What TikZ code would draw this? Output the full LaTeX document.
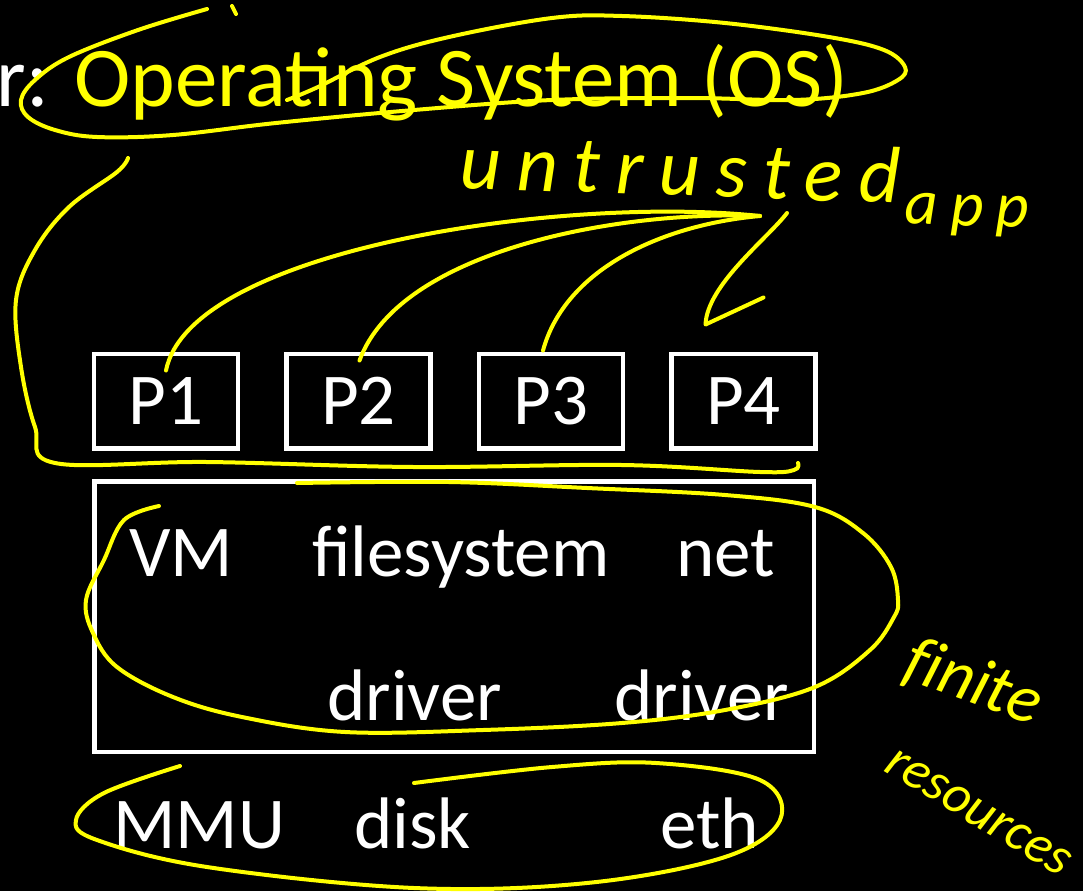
\documentclass[tikz,border=0pt]{standalone}
\usepackage{fontspec}
\setsansfont{Carlito}
\newfontfamily\handfont[LetterSpace=20]{Carlito}
\tikzset{every picture/.style={/utils/exec={\sffamily}}}
\usetikzlibrary{calc}
\usetikzlibrary{positioning}
\definecolor{ink}{RGB}{255,255,0}

\begin{document}
\begin{tikzpicture}[x=1pt, y=-1pt,
  pbox/.style={draw=white, line width=4.5pt, minimum width=144pt, minimum height=94.5pt,
    inner sep=0pt, text=white, font=\fontsize{73}{80}\selectfont},
  kbox/.style={draw=white, line width=4.5pt, minimum width=719.5pt, minimum height=270.5pt, inner sep=0pt},
  lbl/.style={text=white, inner sep=0pt, anchor=base west, font=\fontsize{73}{80}\selectfont},
  hand/.style={draw=ink, line width=4pt, line cap=round, line join=round},
  note/.style={text=ink, inner sep=0pt, anchor=base west, font=\handfont\itshape\fontsize{80}{90}\selectfont}]

  \fill[black] (0,0) rectangle (1083,891);
  \useasboundingbox (0,0) rectangle (1083,891);

  \node[anchor=base east, inner sep=0pt, text=ink, font=\fontsize{85}{90}\selectfont] (title)
    at (849,106) {\textcolor{white}{r:} Operating System (OS)};

  % processes
  \node[pbox] (p1) at (166,401) {P1};
  \node[pbox, right=44pt of p1] (p2) {P2};
  \node[pbox, right=44pt of p2] (p3) {P3};
  \node[pbox, right=44pt of p3] (p4) {P4};

  % kernel
  \node[kbox, anchor=north west] (kernel) at (92,479) {};
  \node[lbl] (vm) at (129,576) {VM};
  \node[lbl] (fs) at (312,576) {filesystem};
  \node[lbl] (net) at (676,576) {net};
  \node[lbl] (diskdrv) at (327,720) {driver};
  \node[lbl] (ethdrv) at (614,720) {driver};

  % hardware
  \node[lbl] (mmu) at (113,848) {MMU};
  \node[lbl] (disk) at (354,848) {disk};
  \node[lbl] (eth) at (660,848) {eth};

  % ink
  \node[note, rotate=-2] (untrusted) at (459,188)
    {untrusted\hspace{6pt}\raisebox{-20pt}{\fontsize{64}{64}\selectfont app}};
  \node[note, font=\itshape\fontsize{68}{70}\selectfont, rotate=-20] (finite) at (900,677) {f\kern0ptinite};
  \node[note, font=\itshape\fontsize{54}{58}\selectfont, rotate=-31] (resources) at (882,770) {resources};

  \coordinate (fork) at (760,216);
  \coordinate (fork4) at (787,213);
  \draw[hand] (fork) .. controls (560,195) and (190,250) .. ([yshift=-19pt]p1.north);
  \draw[hand] (fork) .. controls (620,210) and (400,250) .. ([xshift=1pt,yshift=-9pt]p2.north);
  \draw[hand] (fork) .. controls (660,225) and (565,270) .. ([xshift=-8pt,yshift=1pt]p3.north);
  \draw[hand] (fork4) .. controls (768,238) and (707,285) .. ([xshift=-38pt,yshift=27pt]p4.north) -- ++(58,-27);

  \draw[hand] plot[smooth, tension=0.6] coordinates {(207,9) (138,30) (69,57) (35,80) (21,100)
    (28,117) (55,130) (97,137) (173,135) (276,123) (414,110) (552,100) (690,98) (794,100)
    (863,93) (898,80) (905,67) (884,50) (829,37) (725,23) (622,16) (552,18) (449,37)
    (380,57) (318,87) (287,100)};
  \draw[hand] (232,6) -- (236,14);
  \draw[hand] plot[smooth, tension=0.6] coordinates {(128,158) (117,172) (69,207) (35,250)
    (16,300) (21,367) (35,427) (55,463) (207,462) (414,467) (622,465) (760,472) (794,470) (798,463)};
  \draw[hand] plot[smooth, tension=0.6] coordinates {(159,506) (124,520) (104,560) (86,600)
    (93,633) (117,667) (173,697) (242,717) (345,732) (483,730) (622,723) (725,710) (815,687)
    (870,650) (894,617) (898,600) (891,567) (863,533) (815,507) (725,495) (587,488) (449,482) (297,483)};
  \draw[hand] plot[smooth, tension=0.6] coordinates {(180,766) (104,793) (76,820) (97,840)
    (207,867) (414,888) (587,883) (725,857) (780,820) (760,780) (656,763) (552,767) (414,783)};
\end{tikzpicture}
\end{document}
